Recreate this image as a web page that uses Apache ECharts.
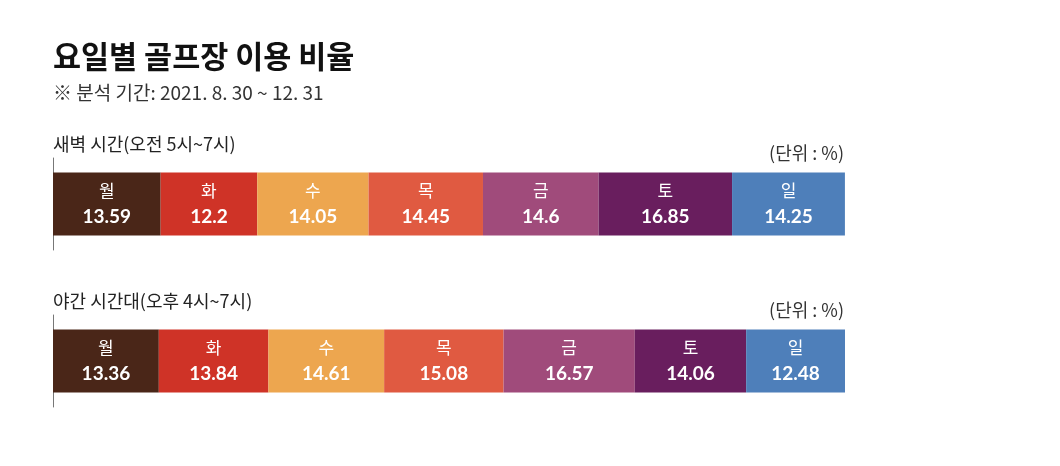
<!DOCTYPE html>
<html><head><meta charset="utf-8">
<script src="https://cdn.jsdelivr.net/npm/echarts@6/dist/echarts.min.js"></script>
<style>html,body{margin:0;padding:0;background:#fff}#c{width:1060px;height:466px}</style>
</head><body><div id="c"></div>
<script>
const days = ['월','화','수','목','금','토','일'];
const dawnValues = [13.59, 12.2, 14.05, 14.45, 14.6, 16.85, 14.25];
const eveningValues = [13.36, 13.84, 14.61, 15.08, 16.57, 14.06, 12.48];
const colors = ['#4a2618','#cf3327','#eda64f','#e05a41','#a04b7b','#691e5e','#4e7fba'];
const titleText = '요일별 골프장 이용 비율';
const subtitleText = '※ 분석 기간: 2021. 8. 30 ~ 12. 31';
const sectionTitles = ['새벽 시간(오전 5시~7시)', '야간 시간대(오후 4시~7시)'];
const unitText = '(단위 : %)';

const KR = '"Noto Sans CJK KR", "Noto Sans", sans-serif';
const chart = echarts.init(document.getElementById('c'), null, {renderer:'canvas'});

function makeSeries(values, idx, name) {
  return values.map((v, i) => ({
    type: 'bar', name: days[i], stack: name, xAxisIndex: idx, yAxisIndex: idx,
    barWidth: 63, data: [v], silent: true,
    itemStyle: { color: colors[i] },
    label: {
      show: true, position: 'inside',
      formatter: '{d|' + days[i] + '}\n{v|' + v + '}',
      rich: {
        d: { fontFamily: KR, fontSize: 17, color: '#fff', lineHeight: 26, align: 'center' },
        v: { fontFamily: 'Lato, sans-serif', fontWeight: 'bold', fontSize: 19, color: '#fff', lineHeight: 26, align: 'center' }
      }
    }
  }));
}

const gridTops = [158, 315];
chart.setOption({
  animation: false,
  grid: gridTops.map(t => ({ left: 53, right: 215, top: t, height: 92 })),
  xAxis: [0, 1].map(i => ({ type: 'value', gridIndex: i, min: 0, max: 100, show: false })),
  yAxis: [0, 1].map(i => ({
    type: 'category', gridIndex: i, data: [''],
    axisLine: { show: true, lineStyle: { color: '#777', width: 1 } },
    axisTick: { show: false }, axisLabel: { show: false }, splitLine: { show: false }
  })),
  series: [].concat(makeSeries(dawnValues, 0, 'dawn'), makeSeries(eveningValues, 1, 'evening')),
  graphic: [
    { type: 'text', left: 53, top: 41, style: { text: titleText, font: 'bold 30.5px ' + KR, fill: '#111' } },
    { type: 'text', left: 53, top: 83, style: { text: subtitleText, font: '19px ' + KR, fill: '#333' } },
    { type: 'text', left: 53, top: 135, style: { text: sectionTitles[0], font: '18px ' + KR, fill: '#222' } },
    { type: 'text', right: 216, top: 144, style: { text: unitText, font: '18px ' + KR, fill: '#333' } },
    { type: 'text', left: 53, top: 292, style: { text: sectionTitles[1], font: '18px ' + KR, fill: '#222' } },
    { type: 'text', right: 216, top: 301, style: { text: unitText, font: '18px ' + KR, fill: '#333' } }
  ]
});
</script></body></html>
